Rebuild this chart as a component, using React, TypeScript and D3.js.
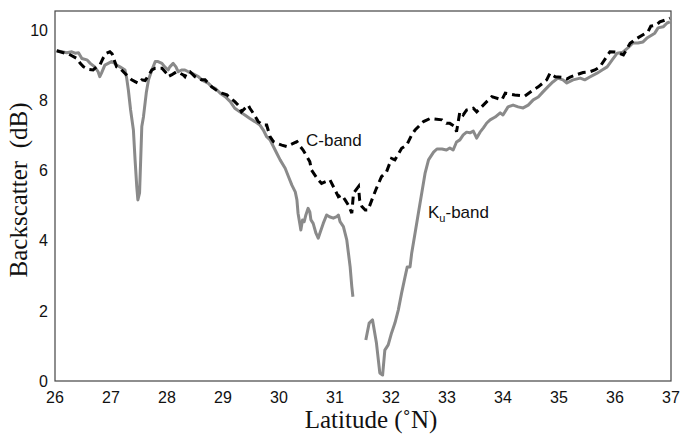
import React from "react";
import * as d3 from "d3";

const xTicks = [26, 27, 28, 29, 30, 31, 32, 33, 34, 35, 36, 37];
const yTicks = [0, 2, 4, 6, 8, 10];

const kuLat1 = [26.03,26.12,26.21,26.30,26.36,26.42,26.48,26.57,26.63,26.71,26.77,26.80,26.83,26.89,26.95,27.01,27.07,27.10,27.16,27.25,27.28,27.31,27.35,27.40,27.43,27.46,27.48,27.51,27.53,27.55,27.58,27.63,27.67,27.73,27.79,27.84,27.91,27.96,28.02,28.05,28.11,28.16,28.20,28.26,28.32,28.38,28.44,28.50,28.56,28.62,28.68,28.74,28.80,28.86,28.95,29.04,29.13,29.21,29.30,29.39,29.48,29.57,29.66,29.72,29.78,29.84,29.90,29.96,30.02,30.11,30.17,30.23,30.29,30.32,30.34,30.38,30.39,30.42,30.45,30.48,30.52,30.55,30.57,30.61,30.66,30.70,30.73,30.79,30.85,30.90,30.97,31.03,31.06,31.09,31.15,31.21,31.24,31.27,31.30,31.32];
const kuVal1 = [9.41,9.38,9.35,9.38,9.34,9.35,9.19,9.15,9.05,8.95,8.81,8.67,8.77,9.00,9.05,9.10,9.05,9.00,8.95,8.86,8.63,8.29,7.72,7.15,6.30,5.54,5.16,5.36,6.30,7.25,7.53,8.21,8.58,8.86,9.10,9.10,9.05,8.95,8.86,8.95,9.05,8.95,8.81,8.86,8.86,8.81,8.77,8.72,8.67,8.58,8.53,8.48,8.38,8.34,8.20,8.10,7.96,7.77,7.67,7.58,7.48,7.39,7.29,7.15,6.96,6.87,6.68,6.49,6.30,6.06,5.82,5.58,5.39,5.16,4.78,4.40,4.30,4.59,4.54,4.73,4.92,4.82,4.59,4.49,4.21,4.07,4.21,4.49,4.73,4.68,4.64,4.68,4.73,4.54,4.40,4.02,3.64,3.26,2.69,2.40];

const kuLat2 = [31.55,31.61,31.67,31.74,31.80,31.85,31.89,31.95,32.01,32.07,32.13,32.19,32.25,32.29,32.34,32.37,32.43,32.49,32.55,32.61,32.67,32.76,32.82,32.91,32.99,33.05,33.11,33.17,33.23,33.29,33.35,33.41,33.47,33.53,33.59,33.65,33.71,33.77,33.86,33.95,34.00,34.09,34.18,34.27,34.36,34.45,34.54,34.63,34.71,34.80,34.89,34.98,35.07,35.14,35.25,35.38,35.46,35.55,35.68,35.77,35.86,35.95,36.04,36.14,36.23,36.32,36.41,36.50,36.57,36.66,36.71,36.77,36.86,36.93,36.98];
const kuVal2 = [1.17,1.65,1.74,1.08,0.23,0.17,0.88,1.03,1.37,1.65,2.02,2.51,2.96,3.25,3.25,3.65,4.22,4.79,5.36,5.93,6.30,6.52,6.61,6.61,6.58,6.64,6.58,6.81,6.87,7.01,7.09,7.07,7.12,6.92,7.09,7.21,7.35,7.44,7.52,7.64,7.58,7.81,7.86,7.81,7.78,7.86,8.01,8.09,8.23,8.38,8.52,8.63,8.58,8.49,8.58,8.63,8.58,8.66,8.77,8.86,8.95,9.15,9.34,9.37,9.49,9.63,9.63,9.66,9.77,9.86,9.91,10.06,10.09,10.20,10.23];

const cLat = [26.03,26.18,26.24,26.39,26.45,26.51,26.59,26.68,26.74,26.80,26.86,26.92,26.98,27.02,27.10,27.16,27.22,27.31,27.37,27.43,27.49,27.55,27.61,27.73,27.79,27.91,27.99,28.02,28.08,28.17,28.23,28.29,28.32,28.35,28.41,28.50,28.56,28.62,28.68,28.74,28.80,28.92,28.98,29.07,29.21,29.27,29.33,29.45,29.48,29.54,29.63,29.72,29.78,29.84,29.90,29.96,30.05,30.14,30.32,30.38,30.43,30.55,30.58,30.70,30.76,30.91,30.97,31.06,31.12,31.18,31.24,31.30,31.33,31.42,31.44,31.48,31.54,31.59,31.68,31.74,31.83,31.92,32.01,32.07,32.19,32.28,32.37,32.43,32.58,32.70,32.91,32.99,33.05,33.14,33.17,33.23,33.29,33.35,33.47,33.53,33.71,33.80,33.98,34.04,34.21,34.39,34.54,34.63,34.78,34.84,34.93,35.05,35.14,35.20,35.43,35.55,35.64,35.73,35.91,36.03,36.15,36.27,36.39,36.59,36.64,36.74,36.80,36.89,36.98];
const cVal = [9.41,9.34,9.32,9.19,9.05,8.95,8.88,8.86,8.95,9.00,9.20,9.34,9.38,9.32,8.95,8.91,8.81,8.67,8.58,8.53,8.48,8.58,8.56,8.86,8.91,8.91,8.77,8.67,8.72,8.81,8.77,8.72,8.67,8.77,8.81,8.67,8.62,8.58,8.58,8.48,8.38,8.24,8.20,8.15,7.96,7.86,7.67,7.86,7.77,7.63,7.39,7.29,7.29,6.96,6.82,6.77,6.72,6.68,6.82,6.68,6.58,6.25,6.01,5.73,5.63,5.73,5.54,5.25,5.30,5.16,5.01,4.78,5.35,5.54,5.16,4.97,4.87,4.87,5.25,5.49,5.82,5.96,6.34,6.30,6.63,6.72,7.01,7.15,7.39,7.48,7.44,7.34,7.34,7.25,7.10,7.67,7.58,7.72,7.77,7.67,7.96,8.10,8.01,8.20,8.15,8.12,8.29,8.38,8.58,8.77,8.67,8.65,8.60,8.66,8.79,8.81,8.86,8.95,9.38,9.37,9.29,9.62,9.76,9.95,10.11,10.14,10.23,10.28,10.34];

const W = 681;
const H = 435;
const left = 55, right = 671, top = 11, bottom = 381;

export default function App() {
  const x = d3.scaleLinear().domain([26, 37]).range([left, right]);
  const y = d3.scaleLinear().domain([0, 10]).range([bottom, 30]);
  const line = d3
    .line<[number, number]>()
    .x((d) => x(d[0]))
    .y((d) => y(d[1]));
  const ku1 = line(d3.zip(kuLat1, kuVal1) as [number, number][]) || "";
  const ku2 = line(d3.zip(kuLat2, kuVal2) as [number, number][]) || "";
  const cb = line(d3.zip(cLat, cVal) as [number, number][]) || "";
  const sans = "'Liberation Sans', Arial, Helvetica, sans-serif";
  const serif = "'Liberation Serif', 'Times New Roman', serif";
  return (
    <svg
      width={W}
      height={H}
      viewBox={`0 0 ${W} ${H}`}
      style={{ position: "absolute", left: 0, top: 0, background: "#fff" }}
    >
      <rect x={0} y={0} width={W} height={H} fill="#fff" />
      <path d={ku1} fill="none" stroke="#8a8a8a" strokeWidth={3} strokeLinejoin="round" />
      <path d={ku2} fill="none" stroke="#8a8a8a" strokeWidth={3} strokeLinejoin="round" />
      <path d={cb} fill="none" stroke="#000" strokeWidth={3} strokeDasharray="8,5" />
      <rect
        x={left}
        y={top}
        width={right - left}
        height={bottom - top}
        fill="none"
        stroke="#444"
        strokeWidth={1.2}
      />
      {yTicks.map((t) => (
        <text
          key={"y" + t}
          x={48}
          y={y(t)}
          dy="0.36em"
          textAnchor="end"
          fontFamily={sans}
          fontSize={16}
          fill="#111"
        >
          {t}
        </text>
      ))}
      {xTicks.map((t) => (
        <text
          key={"x" + t}
          x={x(t)}
          y={403}
          textAnchor="middle"
          fontFamily={sans}
          fontSize={16}
          fill="#111"
        >
          {t}
        </text>
      ))}
      <text
        transform={`translate(27,190) rotate(-90)`}
        textAnchor="middle"
        fontFamily={serif}
        fontSize={25}
        fill="#111"
        style={{ whiteSpace: "pre" }}
      >
        {"Backscatter  (dB)"}
      </text>
      <text x={371} y={428} textAnchor="middle" fontFamily={serif} fontSize={25} fill="#111">
        Latitude (˚N)
      </text>
      <text x={306} y={146} fontFamily={sans} fontSize={17} fill="#111">
        C-band
      </text>
      <text x={428} y={218} fontFamily={sans} fontSize={17} fill="#111">
        K
        <tspan fontSize={11} dy={4}>u</tspan>
        <tspan dy={-4}>-band</tspan>
      </text>
    </svg>
  );
}
